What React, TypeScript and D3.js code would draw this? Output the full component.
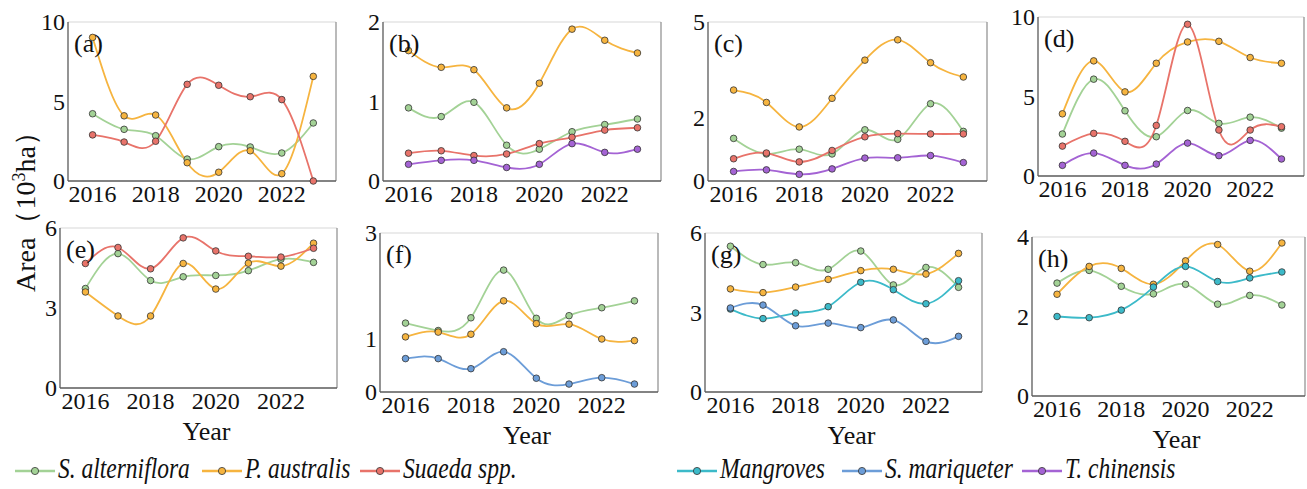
import * as d3 from 'd3';

// years shared by every panel
const years = [2016, 2017, 2018, 2019, 2020, 2021, 2022, 2023];

const speciesNames = ['S. alterniflora', 'P. australis', 'Suaeda spp.', 'Mangroves', 'S. mariqueter', 'T. chinensis'];
const speciesColors = ['#a3d296', '#f6b43f', '#e8736a', '#3cbac9', '#6c9dd8', '#a463d4'];

// (a)
const aAlterniflora = [4.23, 3.25, 2.85, 1.38, 2.16, 2.14, 1.76, 3.65];
const aAustralis = [9.03, 4.1, 4.15, 1.15, 0.55, 1.9, 0.46, 6.58];
const aSuaeda = [2.9, 2.45, 2.5, 6.08, 6.02, 5.3, 5.12, 0];
// (b)
const bAlterniflora = [0.92, 0.81, 0.99, 0.45, 0.4, 0.62, 0.71, 0.78];
const bAustralis = [1.64, 1.43, 1.4, 0.92, 1.23, 1.91, 1.77, 1.61];
const bSuaeda = [0.35, 0.38, 0.32, 0.34, 0.47, 0.55, 0.64, 0.67];
const bChinensis = [0.21, 0.26, 0.26, 0.17, 0.21, 0.47, 0.36, 0.4];
// (c)
const cAlterniflora = [1.34, 0.85, 1.0, 0.85, 1.61, 1.31, 2.43, 1.56];
const cAustralis = [2.86, 2.47, 1.7, 2.6, 3.8, 4.44, 3.72, 3.27];
const cSuaeda = [0.7, 0.88, 0.6, 0.96, 1.39, 1.49, 1.48, 1.48];
const cChinensis = [0.3, 0.35, 0.21, 0.38, 0.72, 0.73, 0.8, 0.58];
// (d)
const dAlterniflora = [2.64, 6.09, 4.1, 2.47, 4.12, 3.31, 3.7, 3.01];
const dAustralis = [3.91, 7.24, 5.29, 7.09, 8.43, 8.47, 7.45, 7.09];
const dSuaeda = [1.88, 2.68, 2.18, 3.18, 9.54, 2.89, 2.89, 3.1];
const dChinensis = [0.67, 1.44, 0.67, 0.75, 2.07, 1.28, 2.24, 1.07];
// (e)
const eAlterniflora = [3.73, 5.04, 4.03, 4.17, 4.22, 4.4, 4.83, 4.71];
const eAustralis = [3.6, 2.7, 2.7, 4.67, 3.71, 4.68, 4.57, 5.43];
const eSuaeda = [4.67, 5.27, 4.47, 5.63, 5.14, 4.94, 4.91, 5.24];
// (f)
const fAlterniflora = [1.3, 1.16, 1.4, 2.3, 1.39, 1.44, 1.59, 1.72];
const fAustralis = [1.04, 1.13, 1.09, 1.72, 1.29, 1.28, 1.0, 0.97];
const fMariqueter = [0.63, 0.63, 0.44, 0.76, 0.26, 0.15, 0.27, 0.15];
// (g)
const gAlterniflora = [5.5, 4.81, 4.88, 4.63, 5.32, 4.04, 4.7, 3.95];
const gAustralis = [3.89, 3.75, 3.96, 4.25, 4.58, 4.63, 4.45, 5.23];
const gMangroves = [3.13, 2.77, 2.98, 3.22, 4.14, 3.86, 3.33, 4.2];
const gMariqueter = [3.17, 3.28, 2.5, 2.6, 2.43, 2.72, 1.91, 2.1];
// (h)
const hAlterniflora = [2.84, 3.16, 2.76, 2.57, 2.81, 2.31, 2.53, 2.29];
const hAustralis = [2.56, 3.26, 3.21, 2.81, 3.4, 3.81, 3.14, 3.85];
const hMangroves = [2.0, 1.97, 2.16, 2.74, 3.26, 2.88, 2.97, 3.12];

const xTicks = [2016, 2018, 2020, 2022];

interface Series { sp: number; values: number[] }
interface Panel {
  label: string;
  box: [number, number, number, number]; // left, top, right, bottom
  yMax: number;
  yTicks: number[];
  series: Series[];
  xTitle: boolean;
}

const panels: Panel[] = [
  { label: '(a)', box: [68, 22, 336, 181], yMax: 10, yTicks: [0, 5, 10], xTitle: false,
    series: [{ sp: 0, values: aAlterniflora }, { sp: 1, values: aAustralis }, { sp: 2, values: aSuaeda }] },
  { label: '(b)', box: [383, 22, 661, 181], yMax: 2, yTicks: [0, 1, 2], xTitle: false,
    series: [{ sp: 0, values: bAlterniflora }, { sp: 1, values: bAustralis }, { sp: 2, values: bSuaeda }, { sp: 5, values: bChinensis }] },
  { label: '(c)', box: [708, 22, 987, 181], yMax: 5, yTicks: [0, 2, 5], xTitle: false,
    series: [{ sp: 0, values: cAlterniflora }, { sp: 1, values: cAustralis }, { sp: 2, values: cSuaeda }, { sp: 5, values: cChinensis }] },
  { label: '(d)', box: [1038, 17, 1304, 176], yMax: 10, yTicks: [0, 5, 10], xTitle: false,
    series: [{ sp: 0, values: dAlterniflora }, { sp: 1, values: dAustralis }, { sp: 2, values: dSuaeda }, { sp: 5, values: dChinensis }] },
  { label: '(e)', box: [60, 228, 337, 388], yMax: 6, yTicks: [0, 3, 6], xTitle: true,
    series: [{ sp: 0, values: eAlterniflora }, { sp: 1, values: eAustralis }, { sp: 2, values: eSuaeda }] },
  { label: '(f)', box: [380, 233, 658, 392], yMax: 3, yTicks: [0, 1, 3], xTitle: true,
    series: [{ sp: 0, values: fAlterniflora }, { sp: 1, values: fAustralis }, { sp: 4, values: fMariqueter }] },
  { label: '(g)', box: [705, 233, 982, 392], yMax: 6, yTicks: [0, 3, 6], xTitle: true,
    series: [{ sp: 0, values: gAlterniflora }, { sp: 1, values: gAustralis }, { sp: 3, values: gMangroves }, { sp: 4, values: gMariqueter }] },
  { label: '(h)', box: [1032, 237, 1305, 396], yMax: 4, yTicks: [0, 2, 4], xTitle: true,
    series: [{ sp: 0, values: hAlterniflora }, { sp: 1, values: hAustralis }, { sp: 3, values: hMangroves }] },
];

const legendX = [15, 202, 360, 677, 842, 1022];
const serif = '"Liberation Serif", "Times New Roman", serif';

const PanelChart = ({ p }: { p: Panel }) => {
  const [l, t, r, b] = p.box;
  const x = d3.scaleLinear().domain([2015.22, 2023.72]).range([l, r]);
  const y = d3.scaleLinear().domain([0, p.yMax]).range([b, t]);
  const line = d3.line<number>()
    .x((_, i) => x(years[i]))
    .y(d => y(d))
    .curve(d3.curveNatural);

  return (
    <g>
      <line x1={l} x2={r} y1={t} y2={t} stroke="#d8d8d8" strokeWidth={1.2} />
      <line x1={r} x2={r} y1={t} y2={b} stroke="#8c8c8c" strokeWidth={1.2} />
      <line x1={l} x2={r} y1={b} y2={b} stroke="#5a5a5a" strokeWidth={1.3} />
      <line x1={l} x2={l} y1={t} y2={b} stroke="#5a5a5a" strokeWidth={1.3} />
      {p.yTicks.map(v => (
        <text key={v} x={l - 3} y={y(v)} dy="0.35em" textAnchor="end" fontSize={24} fontFamily={serif} fill="#111">{v}</text>
      ))}
      {xTicks.map(v => (
        <text key={v} x={x(v)} y={b + 21} textAnchor="middle" fontSize={24} fontFamily={serif} fill="#111">{v}</text>
      ))}
      {p.xTitle && (
        <text x={(l + r) / 2 + 8} y={b + 52} textAnchor="middle" fontSize={26} fontFamily={serif} fill="#111">Year</text>
      )}
      {p.series.map(s => (
        <path key={'l' + s.sp} d={line(s.values) || ''} fill="none" stroke={speciesColors[s.sp]} strokeWidth={1.8} />
      ))}
      {p.series.map(s => s.values.map((v, i) => (
        <circle key={s.sp + '-' + i} cx={x(years[i])} cy={y(v)} r={3.3} fill={speciesColors[s.sp]} stroke="#333" strokeWidth={0.8} />
      )))}
      <text x={l + 6} y={t + 30} fontSize={26} fontFamily={serif} fill="#111">{p.label}</text>
    </g>
  );
};

export default function App() {
  return (
    <div style={{ position: 'absolute', left: 0, top: 0 }}>
      <svg width={1307} height={489} style={{ display: 'block', background: '#fff' }}>
        {panels.map(p => <PanelChart key={p.label} p={p} />)}
        <text transform="translate(35,205) rotate(-90)" textAnchor="middle" fontSize={28} fontFamily={serif} fill="#111">
          Area（10<tspan dy={-10} fontSize={18}>3</tspan><tspan dy={10}>ha）</tspan>
        </text>
        {speciesNames.map((name, i) => (
          <g key={name} transform={`translate(${legendX[i]},0)`}>
            <line x1={0} x2={40} y1={471} y2={471} stroke={speciesColors[i]} strokeWidth={2.5} />
            <circle cx={20} cy={471} r={3.6} fill={speciesColors[i]} stroke="#333" strokeWidth={0.8} />
            <text transform="translate(43,478) scale(1,1.25)" fontSize={23.5} fontStyle="italic" fontFamily={serif} fill="#111">{name}</text>
          </g>
        ))}
      </svg>
    </div>
  );
}
